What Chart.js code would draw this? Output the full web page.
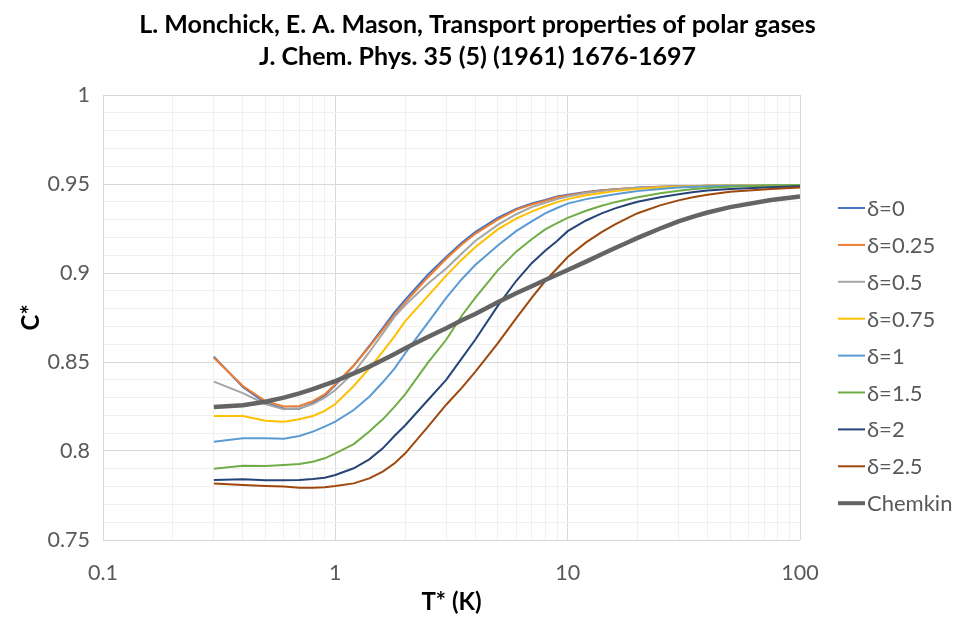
<!DOCTYPE html>
<html>
<head>
<meta charset="utf-8">
<title>C* of polar gases</title>
<script src="https://cdn.jsdelivr.net/npm/chart.js@4.4.1/dist/chart.umd.min.js"></script>
<style>
    html, body { margin: 0; padding: 0; background: #ffffff; }
    #wrap { width: 955px; height: 617px; }
</style>
</head>
<body>
<div id="wrap"><canvas id="cstarChart" width="955" height="617"></canvas></div>
<script>
// Reduced temperature grid (same for every curve)
const tStar = [0.3, 0.4, 0.5, 0.6, 0.7, 0.8, 0.9, 1.0, 1.2, 1.4, 1.6, 1.8, 2.0, 2.5, 3, 3.5, 4, 5, 6, 7, 8, 9, 10,
    12, 14, 16, 18, 20, 25, 30, 35, 40, 50, 75, 100];

// C* values, one array per delta
const delta0   = [0.853, 0.836, 0.827, 0.8238, 0.8238, 0.827, 0.831, 0.837, 0.848, 0.859, 0.869, 0.878, 0.885, 0.899, 0.909, 0.917, 0.923, 0.931, 0.936, 0.939, 0.941, 0.943, 0.944,
    0.9455, 0.9465, 0.947, 0.9475, 0.948, 0.9485, 0.9487, 0.9488, 0.949, 0.949, 0.949, 0.949];
const delta025 = [0.8524, 0.8365, 0.828, 0.825, 0.8253, 0.828, 0.8318, 0.8375, 0.848, 0.8585, 0.868, 0.8765, 0.8835, 0.8975, 0.908, 0.916, 0.922, 0.930, 0.9355, 0.9385, 0.9405, 0.9425, 0.9435,
    0.9452, 0.9463, 0.947, 0.9475, 0.9478, 0.9484, 0.9487, 0.9488, 0.949, 0.949, 0.949, 0.949];
const delta05  = [0.839, 0.8325, 0.8264, 0.8234, 0.824, 0.8264, 0.830, 0.8343, 0.844, 0.8555, 0.866, 0.8755, 0.882, 0.894, 0.9025, 0.911, 0.918, 0.927, 0.933, 0.937, 0.9395, 0.9415, 0.943,
    0.945, 0.946, 0.9468, 0.9473, 0.9477, 0.9483, 0.9487, 0.9489, 0.949, 0.949, 0.949, 0.949];
const delta075 = [0.8197, 0.8197, 0.817, 0.8165, 0.8178, 0.8197, 0.8225, 0.8264, 0.8365, 0.8464, 0.8558, 0.8645, 0.873, 0.887, 0.8985, 0.9075, 0.9145, 0.9245, 0.9305, 0.9345, 0.9375, 0.9398, 0.9415,
    0.9437, 0.945, 0.946, 0.9467, 0.9472, 0.948, 0.9485, 0.9488, 0.949, 0.9492, 0.9493, 0.9494];
const delta1   = [0.8052, 0.8071, 0.8071, 0.8069, 0.8084, 0.8109, 0.8137, 0.8165, 0.823, 0.8305, 0.8386, 0.8464, 0.855, 0.872, 0.886, 0.8965, 0.9045, 0.9155, 0.9235, 0.929, 0.9335, 0.9365, 0.939,
    0.9415, 0.943, 0.9443, 0.9452, 0.946, 0.9472, 0.948, 0.9485, 0.9488, 0.949, 0.9492, 0.9493];
const delta15  = [0.790, 0.7917, 0.7916, 0.7921, 0.7927, 0.794, 0.7959, 0.7987, 0.8039, 0.8109, 0.8178, 0.8249, 0.832, 0.8495, 0.8625, 0.876, 0.886, 0.9015, 0.912, 0.919, 0.9245, 0.928, 0.931,
    0.935, 0.9378, 0.9398, 0.9413, 0.9425, 0.9448, 0.9462, 0.9472, 0.9478, 0.9485, 0.9492, 0.9494];
const delta2   = [0.7837, 0.7841, 0.7835, 0.7835, 0.7837, 0.7843, 0.785, 0.7865, 0.7903, 0.7953, 0.8015, 0.8086, 0.8145, 0.8285, 0.840, 0.852, 0.8625, 0.8815, 0.8955, 0.9055, 0.9125, 0.918, 0.9235,
    0.9295, 0.9335, 0.9363, 0.9383, 0.94, 0.9425, 0.9442, 0.9455, 0.9463, 0.9472, 0.9482, 0.9487];
const delta25  = [0.7818, 0.7809, 0.7803, 0.780, 0.7794, 0.7794, 0.7796, 0.7803, 0.7818, 0.7846, 0.7884, 0.7931, 0.7987, 0.8135, 0.826, 0.8355, 0.8445, 0.8605, 0.8745, 0.886, 0.8955, 0.9025, 0.909,
    0.9172, 0.923, 0.9273, 0.9307, 0.9336, 0.938, 0.9408, 0.9427, 0.944, 0.9456, 0.9472, 0.948];
const chemkin  = [0.8247, 0.8257, 0.8277, 0.830, 0.8324, 0.8347, 0.8371, 0.8393, 0.8436, 0.8474, 0.8511, 0.8545, 0.8577, 0.864, 0.869, 0.8735, 0.877, 0.8835, 0.8886, 0.8926, 0.8961, 0.899, 0.9017,
    0.9064, 0.9105, 0.914, 0.917, 0.9197, 0.925, 0.929, 0.9318, 0.934, 0.937, 0.941, 0.943];

// Series names, in legend order
const seriesNames = ['δ=0', 'δ=0.25', 'δ=0.5', 'δ=0.75', 'δ=1', 'δ=1.5', 'δ=2', 'δ=2.5', 'Chemkin'];
const seriesValues = [delta0, delta025, delta05, delta075, delta1, delta15, delta2, delta25, chemkin];

// Tick labels
const xMajorTicks = [0.1, 1, 10, 100];
const yMajorTicks = [0.75, 0.8, 0.85, 0.9, 0.95, 1];

// Styles (Excel-like palette)
const seriesColors = ['#4472C4', '#ED7D31', '#A5A5A5', '#FFC000', '#5B9BD5', '#70AD47', '#264478', '#9E480E', '#646464'];
const seriesWidths = [2, 2, 2, 2, 2, 2, 2, 2, 4.5];

const FONT = 'Lato, "Open Sans", sans-serif';
const MAJOR_GRID = '#d9d9d9';
const MINOR_GRID = '#f0f0f0';

// ── x ticks: decades + 2..9 minor lines ──
function buildLogTicks() {
    const ticks = [];
    for (let i = 0; i < xMajorTicks.length; i++) {
        const d = xMajorTicks[i];
        ticks.push({ value: d });
        if (i < xMajorTicks.length - 1) {
            for (let k = 2; k <= 9; k++) {
                ticks.push({ value: Number((d * k).toPrecision(6)) });
            }
        }
    }
    return ticks;
}

// ── y ticks: every 0.01, labels on 0.05 ──
function buildLinTicks() {
    const ticks = [];
    const lo = Math.round(yMajorTicks[0] * 100);
    const hi = Math.round(yMajorTicks[yMajorTicks.length - 1] * 100);
    for (let i = lo; i <= hi; i++) {
        ticks.push({ value: i / 100 });
    }
    return ticks;
}

function isYMajor(v) {
    return yMajorTicks.some(m => Math.abs(m - v) < 1e-6);
}

function isXMajor(v) {
    return xMajorTicks.some(m => Math.abs(m - v) < 1e-9);
}

// Legend drawn to the right of the plot, Excel style
const sideLegend = {
    id: 'sideLegend',
    afterDraw(chart) {
        const ctx = chart.ctx;
        const area = chart.chartArea;
        const x0 = area.right + 38;
        const top = 208;
        const step = 36.9;
        ctx.save();
        ctx.font = '22px ' + FONT;
        ctx.textBaseline = 'middle';
        ctx.textAlign = 'left';
        seriesNames.forEach((name, i) => {
            const y = top + i * step;
            ctx.strokeStyle = seriesColors[i];
            ctx.lineWidth = i === seriesNames.length - 1 ? 4 : 2;
            ctx.beginPath();
            ctx.moveTo(x0, y);
            ctx.lineTo(x0 + 27, y);
            ctx.stroke();
            ctx.fillStyle = '#595959';
            ctx.fillText(name, x0 + 29, y + 1);
        });
        ctx.restore();
    }
};

function initChart() {
    const canvas = document.getElementById('cstarChart');
    const ctx = canvas.getContext('2d');

    const datasets = seriesNames.map((name, i) => ({
        label: name,
        data: tStar.map((t, j) => ({ x: t, y: seriesValues[i][j] })),
        borderColor: seriesColors[i],
        backgroundColor: seriesColors[i],
        borderWidth: seriesWidths[i],
        pointRadius: 0,
        tension: 0,
        fill: false,
        yAxisID: 'y',
        // Chemkin on top, then δ=0 above δ=0.25 etc. like Excel draw order
        order: i === seriesNames.length - 1 ? 0 : seriesNames.length - 1 - i
    }));

    new Chart(ctx, {
        type: 'line',
        data: { datasets: datasets },
        options: {
            responsive: false,
            animation: false,
            events: [],
            layout: { padding: 0 },
            plugins: {
                legend: { display: false },
                tooltip: { enabled: false },
                title: {
                    display: true,
                    text: ['L. Monchick, E. A. Mason, Transport properties of polar gases',
                           'J. Chem. Phys. 35 (5) (1961) 1676-1697'],
                    color: '#000000',
                    font: { family: FONT, size: 25, weight: 'bold', lineHeight: 1.28 },
                    padding: { top: 9, bottom: 22 }
                }
            },
            scales: {
                x: {
                    type: 'logarithmic',
                    min: 0.1,
                    max: 100,
                    afterBuildTicks: (scale) => { scale.ticks = buildLogTicks(); },
                    afterFit: (scale) => { scale.height = 77; },
                    ticks: {
                        autoSkip: false,
                        maxRotation: 0,
                        color: '#595959',
                        font: { family: FONT, size: 21.5 },
                        padding: 20,
                        callback: (v) => isXMajor(v) ? String(v) : ''
                    },
                    grid: {
                        drawTicks: false,
                        color: (c) => (c.tick && isXMajor(c.tick.value)) ? MAJOR_GRID : MINOR_GRID,
                        lineWidth: 1
                    },
                    border: { display: false },
                    title: {
                        display: true,
                        text: 'T* (K)',
                        color: '#000000',
                        font: { family: FONT, size: 24, weight: 'bold' },
                        padding: { top: 0, bottom: 0 }
                    }
                },
                y: {
                    type: 'linear',
                    min: 0.75,
                    max: 1,
                    afterBuildTicks: (scale) => { scale.ticks = buildLinTicks(); },
                    afterFit: (scale) => { scale.width = 103; },
                    ticks: {
                        autoSkip: false,
                        color: '#595959',
                        font: { family: FONT, size: 21.5 },
                        padding: 13,
                        callback: (v) => isYMajor(v) ? String(Number(v.toFixed(2))) : ''
                    },
                    grid: {
                        drawTicks: false,
                        color: (c) => (c.tick && isYMajor(c.tick.value)) ? MAJOR_GRID : MINOR_GRID,
                        lineWidth: 1
                    },
                    border: { display: true, color: MAJOR_GRID },
                    title: {
                        display: true,
                        text: 'C*',
                        color: '#000000',
                        font: { family: FONT, size: 24, weight: 'bold' },
                        padding: { top: 17, bottom: 0 }
                    }
                },
                // empty axis on the right that only reserves room for the legend
                legendSpace: {
                    type: 'linear',
                    position: 'right',
                    display: true,
                    afterFit: (scale) => { scale.width = 155; },
                    ticks: { display: false },
                    grid: { display: false, drawOnChartArea: false },
                    border: { display: false }
                }
            }
        },
        plugins: [sideLegend]
    });
}

// Page load
document.addEventListener('DOMContentLoaded', function() {
    initChart();
});
</script>
</body>
</html>
